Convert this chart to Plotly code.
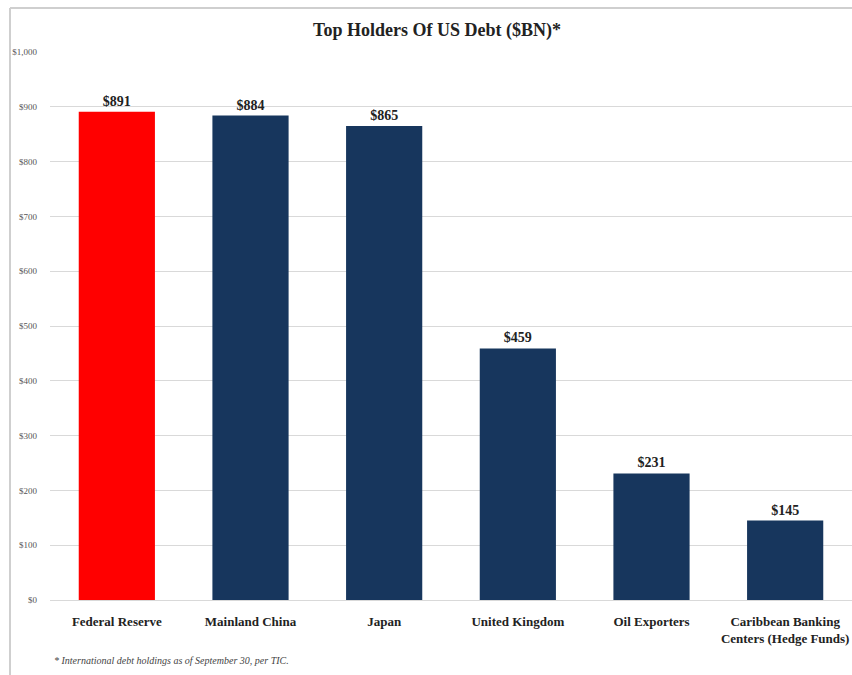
import plotly.graph_objects as go

categories = ["Federal Reserve", "Mainland China", "Japan", "United Kingdom",
              "Oil Exporters", "Caribbean Banking<br>Centers (Hedge Funds)"]
values = [891, 884, 865, 459, 231, 145]
labels = ["$891", "$884", "$865", "$459", "$231", "$145"]
colors = ["#ff0000", "#17365d", "#17365d", "#17365d", "#17365d", "#17365d"]
tick_vals = [0, 100, 200, 300, 400, 500, 600, 700, 800, 900, 1000]
tick_text = ["$0", "$100", "$200", "$300", "$400", "$500", "$600", "$700", "$800", "$900", "$1,000"]

W, H = 852, 675
L, R, T, B = 50, 0, 52, 75
pw, ph = W - L - R, H - T - B

fig = go.Figure(go.Bar(
    x=categories, y=values, marker_color=colors, marker_line_width=0,
    width=0.57, text=labels, texttemplate="<b>%{text}</b>",
    textposition="outside", cliponaxis=False,
    textfont=dict(family="Liberation Serif", size=14, color="#222222"),
))

fig.update_layout(
    width=W, height=H,
    margin=dict(l=L, r=R, t=T, b=B),
    paper_bgcolor="white", plot_bgcolor="white",
    showlegend=False,
    title=dict(text="<b>Top Holders Of US Debt ($BN)*</b>", x=437 / W, xanchor="center",
               y=1 - 30 / H, yanchor="middle",
               font=dict(family="Liberation Serif", size=18, color="#222222")),
    xaxis=dict(tickvals=categories, ticktext=["<b>" + c.replace("<br>", "</b><br><b>") + "</b>" for c in categories],
               tickfont=dict(family="Liberation Serif", size=13, color="#222222"),
               showgrid=False, showline=False, ticks="", ticklabelstandoff=12),
    yaxis=dict(range=[0, 1000], tickvals=tick_vals, ticktext=tick_text,
               tickfont=dict(family="Liberation Serif", size=9, color="#555555"),
               showgrid=True, gridcolor="#d9d9d9", gridwidth=1,
               zeroline=True, zerolinecolor="#d9d9d9", zerolinewidth=1,
               ticks="", ticklabelstandoff=12),
    bargap=0.43,
    annotations=[dict(text="<i>* International debt holdings as of September 30, per TIC.</i>",
                      xref="paper", yref="paper", x=(52 - L) / pw, y=-(660 - T - ph) / ph,
                      xanchor="left", yanchor="middle", showarrow=False,
                      font=dict(family="Liberation Serif", size=10, color="#444444"))],
    shapes=[
        dict(type="line", xref="paper", yref="paper", x0=(10 - L) / pw, x1=1.0,
             y0=1 + (T - 8) / ph, y1=1 + (T - 8) / ph, line=dict(color="#cfcfcf", width=2)),
        dict(type="line", xref="paper", yref="paper", x0=(10 - L) / pw, x1=(10 - L) / pw,
             y0=1 + (T - 8) / ph, y1=-(H - T - ph) / ph, line=dict(color="#cfcfcf", width=2)),
    ],
)

fig.write_html("out.html")
